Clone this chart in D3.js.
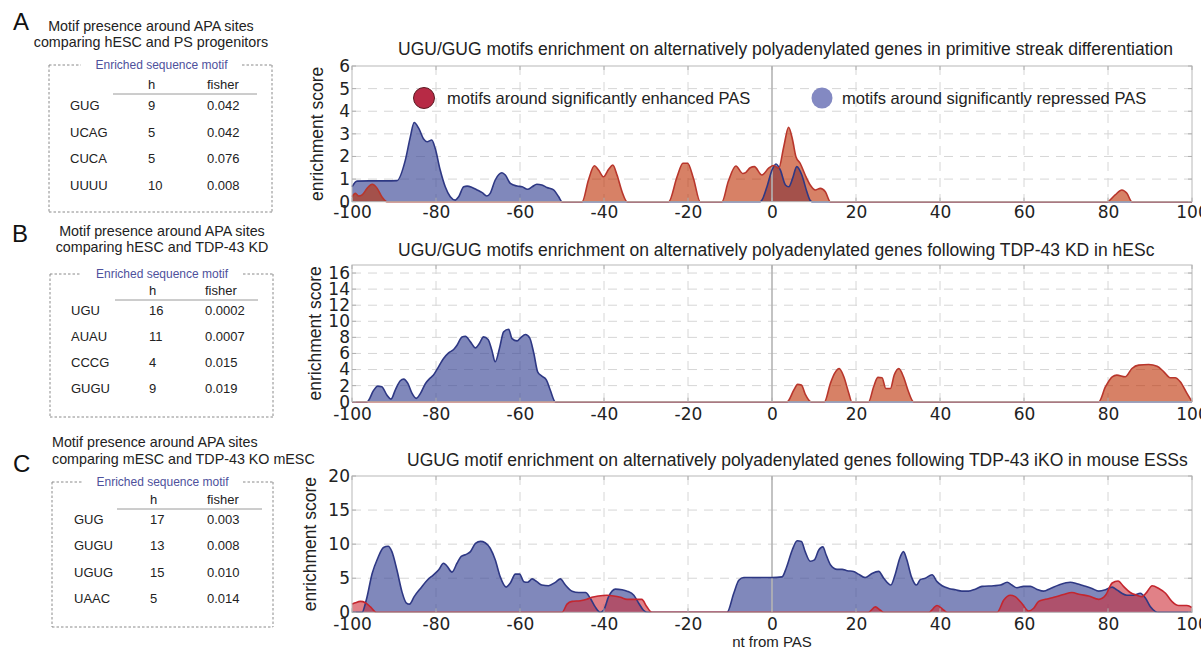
<!DOCTYPE html>
<html>
<head>
<meta charset="utf-8">
<script src="https://cdn.jsdelivr.net/npm/d3@7"></script>
<style>
  body { margin: 0; background: #fff; }
  svg { display: block; }
</style>
</head>
<body>
<svg id="fig" width="1201" height="650"></svg>
<script>
// ---------- axis ticks ----------
const xTicks = [-100, -80, -60, -40, -20, 0, 20, 40, 60, 80, 100];
const psYTicks = [0, 1, 2, 3, 4, 5, 6];
const kdYTicks = [0, 2, 4, 6, 8, 10, 12, 14, 16];
const koYTicks = [0, 5, 10, 15, 20];

// ---------- motif tables ----------
const psMotifs = ["GUG", "UCAG", "CUCA", "UUUU"];
const psH = [9, 5, 5, 10];
const psFisher = ["0.042", "0.042", "0.076", "0.008"];

const kdMotifs = ["UGU", "AUAU", "CCCG", "GUGU"];
const kdH = [16, 11, 4, 9];
const kdFisher = ["0.0002", "0.0007", "0.015", "0.019"];

const koMotifs = ["GUG", "GUGU", "UGUG", "UAAC"];
const koH = [17, 13, 15, 5];
const koFisher = ["0.003", "0.008", "0.010", "0.014"];

// ---------- enrichment profiles: [nt from PAS, enrichment score] ----------
// A: primitive streak differentiation
const psRepressed = [[-100,0.66],[-98.8,0.91],[-96,0.92],[-92,0.92],[-89.3,0.93],[-87.3,1.84],[-86.1,2.88],[-85.2,3.5],[-84.1,3.24],[-82.9,2.76],[-82.1,2.65],[-81,2.73],[-80.2,2.36],[-79,1.4],[-77.8,0.66],[-76.6,0.22],[-75.4,0.07],[-74.6,0.22],[-73.4,0.66],[-72.6,0.69],[-71.4,0.63],[-70.2,0.52],[-69,0.4],[-67.9,0.25],[-67.1,0.37],[-65.9,0.96],[-64.3,1.28],[-63.5,1.18],[-62.3,0.81],[-60.7,0.69],[-59.5,0.66],[-58.2,0.55],[-57.1,0.66],[-56,0.77],[-54.8,0.74],[-53.6,0.63],[-52,0.52],[-50.8,0.22],[-50,0],[-2.8,0],[-2.4,0.07],[-1.2,0.66],[0,1.4],[0.95,1.67],[2,1.4],[3.2,0.74],[4,0.66],[4.9,1.03],[5.9,1.55],[7.1,1.18],[8.3,0.44],[9.1,0.05],[9.5,0],[100,0]];
const psEnhanced = [[-100,0.22],[-99.2,0.37],[-98.4,0.25],[-97.6,0.3],[-96.4,0.59],[-95.2,0.77],[-94,0.59],[-92.9,0.22],[-91.7,0],[-45.2,0],[-43.7,0.96],[-42.3,1.59],[-41.3,1.4],[-40.1,1.1],[-38.9,1.43],[-37.9,1.62],[-36.9,1.18],[-35.7,0.44],[-34.5,0],[-24.6,0],[-22.6,1.1],[-21.2,1.7],[-20.1,1.7],[-18.7,1.03],[-17.1,0],[-11.9,0],[-10.4,0.9],[-8.6,1.58],[-7.0,1.25],[-6.2,1.3],[-5.2,1.5],[-4.2,1.55],[-2.4,1.18],[-0.8,1.48],[0.4,1.6],[1.6,1.48],[2.8,2.43],[3.95,3.29],[4.9,2.73],[5.7,1.99],[6.7,1.7],[7.9,1.18],[9.1,0.74],[10.3,0.52],[11.5,0.59],[12.7,0.44],[13.9,0],[79.8,0],[81.7,0.3],[83.3,0.52],[84.5,0.37],[85.7,0],[100,0]];

// B: TDP-43 KD in hESC
const kdRepressed = [[-100,0],[-96.4,0],[-94.8,1.45],[-93.9,1.94],[-92.9,1.86],[-91.7,0.83],[-90.7,0.33],[-89.7,1.45],[-88.5,2.6],[-87.7,2.81],[-86.7,2.27],[-85.7,1.03],[-84.7,0.41],[-83.7,1.03],[-82.5,2.27],[-81.5,2.89],[-80.6,3.31],[-79.4,4.34],[-78.2,5.37],[-77,6.07],[-75.8,6.49],[-75,7.02],[-73.8,8.06],[-73,8.14],[-71.8,7.44],[-70.6,6.69],[-69.6,7.31],[-68.7,8.06],[-67.6,7.73],[-66.7,6.4],[-65.9,4.96],[-64.9,6.61],[-63.9,8.68],[-62.7,9.01],[-61.9,7.85],[-60.7,7.56],[-59.8,7.98],[-58.7,8.35],[-57.7,7.93],[-56.7,5.99],[-55.8,3.72],[-54.8,3.18],[-53.7,2.69],[-52.8,1.45],[-51.6,0],[100,0]];
const kdEnhanced = [[-100,0],[3.6,0],[5.2,1.45],[6.1,2.15],[7,2.07],[7.9,0.95],[9.3,0],[12.5,0],[13.9,2.27],[14.9,3.51],[16,4.13],[17.1,3.1],[18.3,1.03],[19,0],[23,0],[24.2,1.86],[25.2,3.02],[26.2,2.98],[27.1,1.65],[28.2,1.65],[29.1,3.31],[30.2,4.13],[31.3,3.1],[32.5,1.24],[33.7,0],[77.8,0],[79.4,1.86],[81,3.1],[82.1,3.31],[84.1,3.1],[85.7,4.13],[87.3,4.55],[89.7,4.63],[91.7,4.42],[93.3,3.72],[94.8,2.98],[96,2.98],[97.2,2.48],[98.8,1.03],[100,0]];

// C: TDP-43 iKO in mouse ESCs
const koRepressed = [[-100,0],[-97.6,0],[-96.6,1.8],[-95.2,5.7],[-93.9,7.9],[-92.5,9.5],[-91.4,9.7],[-90.5,8.9],[-89.3,6.2],[-88.1,3.0],[-87.1,1.4],[-86.3,1.2],[-85.2,2.3],[-83.7,3.5],[-82.1,4.7],[-80.6,5.5],[-79.4,6.2],[-78.2,7.2],[-77.4,6.8],[-76.2,5.9],[-75,7.2],[-74,8.2],[-72.8,8.5],[-71.8,8.9],[-70.6,10.1],[-69.4,10.4],[-68.3,10.2],[-67.1,9.4],[-65.9,7.7],[-64.7,5.2],[-63.3,3.7],[-62.3,4.3],[-61.1,5.6],[-60.1,5.6],[-59.1,4.5],[-58.2,4.4],[-57.1,4.9],[-56,4.5],[-54.8,4.0],[-53.2,3.9],[-51.6,4.4],[-50.4,4.9],[-49.2,4.0],[-47.6,3.1],[-46,2.9],[-44.4,2.9],[-43.3,2.1],[-42.1,0.8],[-40.9,0],[-40.1,0.3],[-38.9,2.3],[-37.3,3.4],[-35.7,3.3],[-34.5,3.1],[-32.9,2.5],[-31.7,1.3],[-30.6,0.3],[-29.8,0],[-10.7,0],[-9.1,2.8],[-7.9,4.7],[-6.7,5.1],[-5.2,5.1],[0,5.1],[2.4,5.2],[3.4,6.5],[4.8,9.1],[6,10.5],[7,10.4],[7.9,8.9],[9.1,7.5],[10.1,7.7],[11.1,9.1],[12.1,9.6],[12.9,8.4],[14,6.9],[15.5,6.3],[16.7,6.3],[17.9,6.1],[19.4,6.0],[20.6,5.6],[22.2,5.1],[23.8,5.7],[25.4,6.0],[26.6,5.0],[28.3,4.0],[29.4,5.7],[30.4,7.9],[31.3,8.9],[32.1,7.7],[33.2,5.2],[34.4,4.0],[35.3,4.8],[36.5,5.0],[38.1,5.5],[39.3,4.5],[40.5,3.9],[42.1,3.5],[43.7,3.3],[45.2,3.1],[46.8,3.1],[48.4,3.4],[50,3.8],[52.8,3.9],[54.4,4.0],[56,4.4],[57.1,4.0],[58.3,3.6],[59.9,3.8],[61.5,3.8],[63,3.4],[64.7,3.1],[66.3,3.5],[68.3,4.0],[71,4.4],[72.6,4.2],[74.2,3.9],[76.2,3.5],[77.8,3.1],[79.4,3.3],[81,3.7],[82.1,3.3],[83.3,2.8],[84.5,2.5],[86.1,2.5],[87.7,2.8],[88.9,2.1],[90.1,0.8],[91.3,0.1],[92,0],[100,0]];
const koEnhanced = [[-100,1.2],[-99.2,1.4],[-98,1.6],[-96.8,1.4],[-95.6,0.8],[-94.2,0],[-50,0],[-48.8,1.2],[-47.6,1.6],[-45.6,1.7],[-44.1,1.9],[-42.9,2.2],[-41.3,2.4],[-39.3,2.5],[-37.7,2.4],[-36.1,2.2],[-34.5,1.9],[-32.5,1.9],[-31,1.9],[-29.8,0.8],[-28.6,0],[23,0],[24.6,0.8],[25.8,0.3],[26.6,0],[37.3,0],[39.3,1.0],[40.9,0.3],[41.7,0],[53.6,0],[55.2,1.8],[56.7,2.5],[57.9,2.3],[59.5,1.3],[61.1,0.2],[62.3,0.6],[63.5,1.6],[65.1,1.9],[67.1,2.2],[69.4,2.6],[71.4,2.9],[73.4,2.6],[75.4,2.4],[77.8,1.9],[79.4,2.5],[81,4.3],[82.4,4.6],[83.7,3.8],[85.3,2.9],[86.9,2.5],[88.1,2.3],[89.3,3.0],[90.5,3.9],[92.1,3.5],[93.7,2.8],[95.2,1.6],[96.8,1.0],[98.8,1.0],[100,0.7]];

// ---------- drawing ----------
const svg = d3.select("#fig");
const sans = "'Liberation Sans', Arial, Helvetica, sans-serif";
const numFont = "'DejaVu Sans', sans-serif";
const x = d3.scaleLinear().domain([-100, 100]).range([352, 1192]);
const fmtTick = d => (d < 0 ? "-" + Math.abs(d) : String(d));

const blueFill = "rgb(60,72,150)", blueLine = "#2e3884";

function profilePanel(o) {
  const y = d3.scaleLinear().domain([0, o.yMax]).range(o.yRange);
  const g = svg.append("g");
  const [x0, x1] = x.range();
  const yb = y(0), yt = y(o.yMax);

  // dashed grid
  g.append("g").selectAll("line").data(xTicks.filter(d => d !== 0 && d > -100 && d < 100))
    .join("line")
    .attr("x1", d => x(d)).attr("x2", d => x(d)).attr("y1", yt).attr("y2", yb)
    .attr("stroke", "#d6d6d6").attr("stroke-width", 1).attr("stroke-dasharray", "9,7");
  g.append("g").selectAll("line").data(o.yTicks.filter(d => d > 0 && d < o.yMax))
    .join("line")
    .attr("x1", x0).attr("x2", x1).attr("y1", d => y(d)).attr("y2", d => y(d))
    .attr("stroke", "#d6d6d6").attr("stroke-width", 1).attr("stroke-dasharray", "9,7");

  const area = d3.area().x(d => x(d[0])).y0(yb).y1(d => y(d[1])).curve(d3.curveMonotoneX);
  const line = d3.line().x(d => x(d[0])).y(d => y(d[1])).curve(d3.curveMonotoneX);

  g.append("path").datum(o.repressed).attr("d", area)
    .attr("fill", blueFill).attr("fill-opacity", 0.65);
  g.append("path").datum(o.enhanced).attr("d", area)
    .attr("fill", o.redFill).attr("fill-opacity", 0.6);

  // PAS position
  g.append("line").attr("x1", x(0)).attr("x2", x(0)).attr("y1", yt).attr("y2", yb)
    .attr("stroke", "#b4b4b4").attr("stroke-width", 1.6);

  g.append("path").datum(o.repressed).attr("d", line)
    .attr("fill", "none").attr("stroke", blueLine).attr("stroke-width", 1.6);
  g.append("path").datum(o.enhanced).attr("d", line)
    .attr("fill", "none").attr("stroke", o.redLine).attr("stroke-width", 1.6);

  // frame
  g.append("rect").attr("x", x0).attr("y", yt).attr("width", x1 - x0).attr("height", yb - yt)
    .attr("fill", "none").attr("stroke", "#b8b8b8").attr("stroke-width", 1);

  // inner tick marks
  const tk = g.append("g").attr("stroke", "#b0b0b0").attr("stroke-width", 1);
  xTicks.forEach(d => {
    tk.append("line").attr("x1", x(d)).attr("x2", x(d)).attr("y1", yt).attr("y2", yt + 4);
    tk.append("line").attr("x1", x(d)).attr("x2", x(d)).attr("y1", yb).attr("y2", yb - 4);
  });
  o.yTicks.forEach(d => {
    tk.append("line").attr("x1", x0).attr("x2", x0 + 4).attr("y1", y(d)).attr("y2", y(d));
    tk.append("line").attr("x1", x1).attr("x2", x1 - 4).attr("y1", y(d)).attr("y2", y(d));
  });

  // axes labels
  const xa = g.append("g").attr("transform", `translate(0,${yb})`)
    .call(d3.axisBottom(x).tickValues(xTicks).tickFormat(fmtTick).tickSize(0).tickPadding(0));
  xa.select(".domain").remove();
  xa.selectAll("text").attr("y", o.xLabelDy).attr("dy", null)
    .attr("font-family", numFont).attr("font-size", 17).attr("fill", "#222");

  const ya = g.append("g").attr("transform", `translate(${x0},0)`)
    .call(d3.axisLeft(y).tickValues(o.yTicks).tickFormat(fmtTick).tickSize(0).tickPadding(2));
  ya.select(".domain").remove();
  ya.selectAll("text").attr("font-family", numFont).attr("font-size", 17).attr("fill", "#222");

  g.append("text")
    .attr("transform", `translate(${o.yLabelX},${(yb + yt) / 2}) rotate(-90)`)
    .attr("text-anchor", "middle").attr("dy", "0.35em")
    .attr("font-family", sans).attr("font-size", 17.5).attr("fill", "#222")
    .text("enrichment score");

  g.append("text").attr("x", o.titleX).attr("y", o.titleY)
    .attr("font-family", sans).attr("font-size", 17.5).attr("fill", "#222")
    .text(o.title);
  return { g, y };
}

function motifTable(o) {
  const g = svg.append("g").attr("font-family", sans).attr("fill", "#222");
  g.append("text").attr("x", o.letterX).attr("y", o.letterY)
    .attr("font-size", 24).attr("fill", "#111").text(o.letter);
  o.heading.forEach((t, i) => {
    g.append("text").attr("x", o.headX).attr("y", o.headY[i])
      .attr("text-anchor", o.headAnchor).attr("font-size", 14.3).text(t);
  });
  const [bx0, by0, bx1, by1] = o.box;
  const dot = { stroke: "#8a8a8a", "stroke-width": 1, "stroke-dasharray": "2.5,2" };
  const seg = (a, b, c, d) => {
    const l = g.append("line").attr("x1", a).attr("y1", b).attr("x2", c).attr("y2", d);
    Object.entries(dot).forEach(([k, v]) => l.attr(k, v));
  };
  seg(bx0, by0, bx0, by1);
  seg(bx1, by0, bx1, by1);
  seg(bx0, by1, bx1, by1);
  seg(bx0, by0, o.gap[0], by0);
  seg(o.gap[1], by0, bx1, by0);
  g.append("text").attr("x", (o.gap[0] + o.gap[1]) / 2).attr("y", by0 + 4)
    .attr("text-anchor", "middle").attr("font-size", 12).attr("fill", "#4e519c")
    .text("Enriched sequence motif");
  g.append("text").attr("x", o.cols[1]).attr("y", o.headerY).attr("font-size", 13).text("h");
  g.append("text").attr("x", o.cols[2]).attr("y", o.headerY).attr("font-size", 13).text("fisher");
  g.append("line").attr("x1", o.rule[0]).attr("x2", o.rule[1])
    .attr("y1", o.headerY + 5).attr("y2", o.headerY + 5)
    .attr("stroke", "#9a9a9a").attr("stroke-width", 1);
  o.motifs.forEach((m, i) => {
    const yy = o.rowY + i * o.rowStep;
    g.append("text").attr("x", o.cols[0]).attr("y", yy).attr("font-size", 13).text(m);
    g.append("text").attr("x", o.cols[1]).attr("y", yy).attr("font-size", 13).text(o.h[i]);
    g.append("text").attr("x", o.cols[2]).attr("y", yy).attr("font-size", 13).text(o.fisher[i]);
  });
}

// ---------- panel A ----------
motifTable({
  letter: "A", letterX: 13, letterY: 30,
  heading: ["Motif presence around APA sites", "comparing hESC and PS progenitors"],
  headX: 151, headY: [31, 47], headAnchor: "middle",
  box: [49, 65, 272, 212], gap: [81, 242],
  headerY: 89, rule: [113, 257], cols: [70, 148, 207],
  rowY: 110, rowStep: 26.7,
  motifs: psMotifs, h: psH, fisher: psFisher
});
profilePanel({
  yMax: 6, yTicks: psYTicks, yRange: [201.7, 66],
  repressed: psRepressed, enhanced: psEnhanced,
  redFill: "rgb(188,45,0)", redLine: "#b8362c",
  xLabelDy: 16.5, yLabelX: 317,
  title: "UGU/GUG motifs enrichment on alternatively polyadenylated genes in primitive streak differentiation",
  titleX: 398, titleY: 55
});
// legend
const lg = svg.append("g").attr("font-family", sans).attr("font-size", 16.5).attr("fill", "#222");
lg.append("circle").attr("cx", 424).attr("cy", 98).attr("r", 10.5)
  .attr("fill", "#b72a45").attr("stroke", "#5a1a22").attr("stroke-width", 1);
lg.append("text").attr("x", 447).attr("y", 104).text("motifs around significantly enhanced PAS");
lg.append("circle").attr("cx", 822).attr("cy", 98).attr("r", 10.5).attr("fill", "#8389c2");
lg.append("text").attr("x", 842).attr("y", 104).text("motifs around significantly repressed PAS");

// ---------- panel B ----------
motifTable({
  letter: "B", letterX: 12, letterY: 242,
  heading: ["Motif presence around APA sites", "comparing hESC and TDP-43 KD"],
  headX: 162, headY: [236, 252], headAnchor: "middle",
  box: [50, 274, 273, 417], gap: [81, 243],
  headerY: 295, rule: [115, 258], cols: [71, 149, 205],
  rowY: 315, rowStep: 26,
  motifs: kdMotifs, h: kdH, fisher: kdFisher
});
profilePanel({
  yMax: 17, yTicks: kdYTicks, yRange: [401.7, 265],
  repressed: kdRepressed, enhanced: kdEnhanced,
  redFill: "rgb(188,45,0)", redLine: "#b8362c",
  xLabelDy: 18.3, yLabelX: 315,
  title: "UGU/GUG motifs enrichment on alternatively polyadenylated genes following TDP-43 KD in hESc",
  titleX: 398, titleY: 256
});

// ---------- panel C ----------
motifTable({
  letter: "C", letterX: 13, letterY: 472,
  heading: ["Motif presence around APA sites", "comparing mESC and TDP-43 KO mESC"],
  headX: 52, headY: [447, 464], headAnchor: "start",
  box: [52, 482, 273, 627], gap: [82, 243],
  headerY: 504, rule: [117, 262], cols: [74, 150, 207],
  rowY: 524, rowStep: 26.3,
  motifs: koMotifs, h: koH, fisher: koFisher
});
profilePanel({
  yMax: 20, yTicks: koYTicks, yRange: [612.3, 476],
  repressed: koRepressed, enhanced: koEnhanced,
  redFill: "rgb(205,45,55)", redLine: "#c4262e",
  xLabelDy: 18.2, yLabelX: 310,
  title: "UGUG motif enrichment on alternatively polyadenylated genes following TDP-43 iKO in mouse ESSs",
  titleX: 407, titleY: 466
});
svg.append("text").attr("x", x(0)).attr("y", 647).attr("text-anchor", "middle")
  .attr("font-family", sans).attr("font-size", 15).attr("fill", "#222").text("nt from PAS");
</script>
</body>
</html>
